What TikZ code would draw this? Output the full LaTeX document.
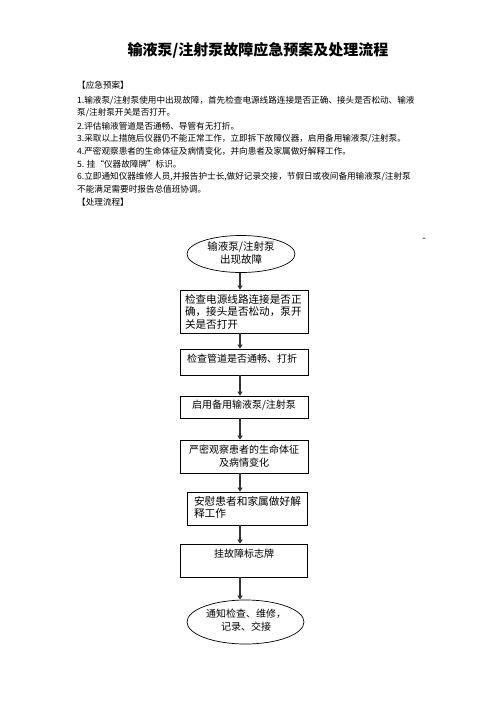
\documentclass[tikz,border=0pt]{standalone}
\usepackage{fontspec}
\setmainfont{Noto Sans CJK SC}
\usetikzlibrary{shapes.geometric,arrows.meta}
\begin{document}
\begin{tikzpicture}[x=1pt,y=-1pt,
  body/.style={inner sep=0pt, anchor=west, font=\fontsize{8.6}{10}\selectfont},
  flowbox/.style={draw, line width=0.7pt, inner sep=0pt, minimum width=128pt},
  flowell/.style={draw, ellipse, line width=0.7pt, inner sep=0pt},
  ftext/.style={inner sep=0pt, font=\fontsize{10}{12.5}\selectfont, align=center},
  arr/.style={draw=black!80, line width=1.3pt, -{Triangle[length=4pt,width=5pt]}}]
\useasboundingbox (0,0) rectangle (496,702);
% title
\node[inner sep=0pt, font=\fontsize{15}{18}\selectfont\bfseries] (title) at (258,50) {输液泵/注射泵故障应急预案及处理流程};
% body
\node[body] (l0) at (77,85) {【应急预案】};
\node[body] (l1) at (77,101) {1.输液泵/注射泵使用中出现故障，首先检查电源线路连接是否正确、接头是否松动、输液};
\node[body] (l1b) at (77,113) {泵/注射泵开关是否打开。};
\node[body] (l2) at (77,126) {2.评估输液管道是否通畅、导管有无打折。};
\node[body] (l3) at (77,139) {3.采取以上措施后仪器仍不能正常工作，立即拆下故障仪器，启用备用输液泵/注射泵。};
\node[body] (l4) at (77,151) {4.严密观察患者的生命体征及病情变化，并向患者及家属做好解释工作。};
\node[body] (l5) at (77,164) {5. 挂“仪器故障牌”标识。};
\node[body] (l6) at (77,177) {6.立即通知仪器维修人员,并报告护士长,做好记录交接，节假日或夜间备用输液泵/注射泵};
\node[body] (l6b) at (77,189) {不能满足需要时报告总值班协调。};
\node[body] (l7) at (77,202) {【处理流程】};
\node[inner sep=0pt, font=\fontsize{10}{12}\selectfont] (dash) at (424,240) {-};
% flowchart
\coordinate (ax) at (240,0);
\node[flowell, minimum width=108pt, minimum height=37pt] (e1) at (241,254) {};
\node[ftext, font=\fontsize{10.5}{12.5}\selectfont] (t1) at (241,253) {输液泵/注射泵\\出现故障};
\node[flowbox, minimum height=43pt, text width=118pt, align=left, font=\fontsize{10.6}{12.5}\selectfont] (b1) at (244,311.5) {检查电源线路连接是否正\\确，接头是否松动，泵开\\关是否打开};
\node[flowbox, minimum height=26pt] (b2) at (244,362) {};
\node[ftext] (t2) at (242,359) {检查管道是否通畅、打折};
\node[flowbox, minimum height=22pt] (b3) at (244,407) {};
\node[ftext] (t3) at (244,405) {启用备用输液泵/注射泵};
\node[flowbox, minimum height=33pt] (b4) at (244,456.5) {};
\node[ftext] (t4) at (244,456) {严密观察患者的生命体征\\及病情变化};
\node[flowbox, minimum width=120pt, minimum height=33pt] (b5) at (247,508.5) {};
\node[inner sep=0pt, text width=108pt, align=left, font=\fontsize{10.7}{11.5}\selectfont] (t5) at (248,507.5) {安慰患者和家属做好解\\释工作};
\node[flowbox, minimum width=127pt, minimum height=33pt] (b6) at (243.5,560.5) {};
\node[ftext] (t6) at (244,554) {挂故障标志牌};
\node[flowell, minimum width=117pt, minimum height=44pt] (e2) at (245.5,622) {};
\node[ftext] (t7) at (246,620) {通知检查、维修，\\记录、交接};
% arrows
\draw[arr] (e1.south -| ax) -- (b1.north -| ax);
\draw[arr] (b1.south -| ax) -- (b2.north -| ax);
\draw[arr] (b2.south -| ax) -- (b3.north -| ax);
\draw[arr] (b3.south -| ax) -- (b4.north -| ax);
\draw[arr] (b4.south -| ax) -- (b5.north -| ax);
\draw[arr] (b5.south -| ax) -- (b6.north -| ax);
\draw[arr] (b6.south -| ax) -- (e2.north -| ax);
\end{tikzpicture}
\end{document}
